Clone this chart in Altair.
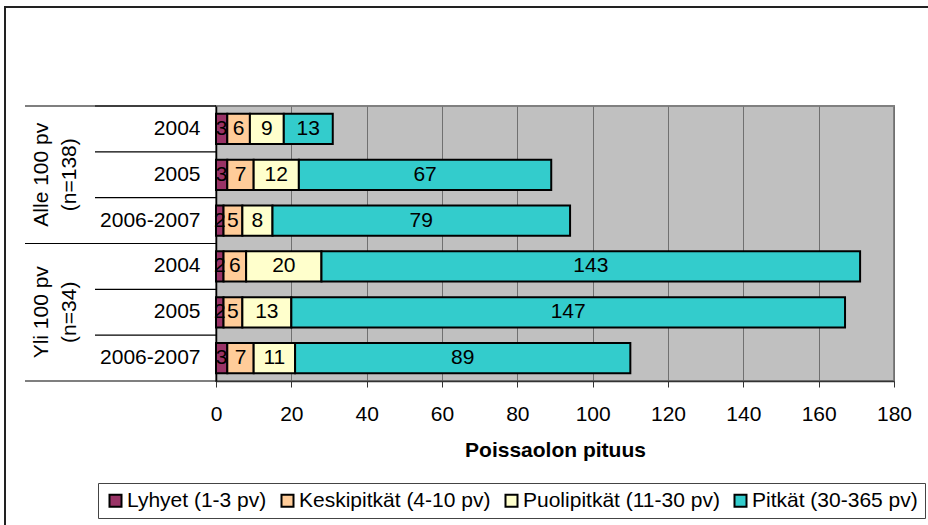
import altair as alt
import pandas as pd

# Absence lengths per group and period
groups = ["Alle", "Alle", "Alle", "Yli", "Yli", "Yli"]
years = ["2004", "2005", "2006-2007", "2004", "2005", "2006-2007"]
lyhyet = [3, 3, 2, 2, 2, 3]
keskipitkat = [6, 7, 5, 6, 5, 7]
puolipitkat = [9, 12, 8, 20, 13, 11]
pitkat = [13, 67, 79, 143, 147, 89]

categories = [
    "Lyhyet (1-3 pv)",
    "Keskipitkät (4-10 pv)",
    "Puolipitkät (11-30 pv)",
    "Pitkät (30-365 pv)",
]
colors = ["#993366", "#FFCC99", "#FFFFCC", "#33CCCC"]
group_names = ["Alle", "Yli"]
group_texts = ["Alle 100 pv\n(n=138)", "Yli 100 pv\n(n=34)"]
x_ticks = [0, 20, 40, 60, 80, 100, 120, 140, 160, 180]

FONT = "Liberation Sans"
FS = 21

rows = [f"{g}|{y}" for g, y in zip(groups, years)]
series = [lyhyet, keskipitkat, puolipitkat, pitkat]
records = []
for i, row in enumerate(rows):
    for k, cat in enumerate(categories):
        records.append({"row": row, "category": cat, "order": k, "value": series[k][i]})
df = pd.DataFrame(records)

y_scale = alt.Scale(domain=rows, paddingInner=0, paddingOuter=0)
y_axis = alt.Axis(
    title=None,
    ticks=False,
    labelExpr="split(datum.label, '|')[1]",
    labelFont=FONT,
    labelFontSize=FS,
    labelColor="black",
    labelPadding=16,
    domainColor="#000000",
    domainWidth=1.5,
    grid=False,
)


def y_enc(band=None):
    if band is None:
        return alt.Y("row:N", scale=y_scale, axis=y_axis)
    return alt.Y("row:N", scale=y_scale, axis=y_axis, bandPosition=band)


x_scale = alt.Scale(domain=[0, 180], nice=False)
x_axis = alt.Axis(
    title="Poissaolon pituus",
    values=x_ticks,
    grid=True,
    gridColor="#707070",
    gridWidth=1,
    tickSize=6,
    tickColor="#333333",
    domainColor="#333333",
    domainWidth=1.5,
    labelFont=FONT,
    labelFontSize=FS,
    labelColor="black",
    labelPadding=16,
    labelFlush=False,
    titleFont=FONT,
    titleFontSize=FS,
    titleFontWeight="bold",
    titleColor="black",
    titleBaseline="middle",
    titleY=69,
)

stacked = alt.Chart(df).transform_stack(
    stack="value",
    groupby=["row"],
    as_=["x0", "x1"],
    sort=[alt.SortField("order", order="ascending")],
).transform_calculate(mid="(datum.x0 + datum.x1) / 2")

bars = stacked.mark_bar(
    height=alt.RelativeBandSize(band=0.66), stroke="black", strokeWidth=2
).encode(
    x=alt.X("x0:Q", scale=x_scale, axis=x_axis),
    x2="x1:Q",
    y=y_enc(),
    color=alt.Color(
        "category:N",
        scale=alt.Scale(domain=categories, range=colors),
        sort=categories,
        legend=alt.Legend(
            title=None,
            orient="none",
            direction="horizontal",
            legendX=-118,
            legendY=377,
            symbolType="square",
            symbolSize=144,
            symbolStrokeColor="black",
            symbolStrokeWidth=2,
            symbolOpacity=1,
            labelFont=FONT,
            labelFontSize=FS,
            labelColor="black",
            labelLimit=400,
            labelOffset=1,
            columnPadding=10,
            padding=7,
            strokeColor="#444444",
            fillColor="white",
        ),
    ),
    order=alt.Order("order:Q"),
)

value_labels = stacked.mark_text(
    font=FONT, fontSize=FS, color="black", align="center", baseline="middle"
).encode(
    x=alt.X("mid:Q", scale=x_scale, axis=x_axis),
    y=y_enc(),
    text=alt.Text("value:Q"),
)

row_df = pd.DataFrame({"row": rows})
first_rows = pd.DataFrame({"row": [rows[0], rows[3]]})
last_row = pd.DataFrame({"row": [rows[-1]]})

# Category separators to the left of the plot
short_rules = alt.Chart(row_df).mark_rule(color="black", strokeWidth=1.2).encode(
    y=y_enc(0), x=alt.value(-121), x2=alt.value(0)
)
group_rules_top = alt.Chart(first_rows).mark_rule(color="black", strokeWidth=1.2).encode(
    y=y_enc(0), x=alt.value(-191), x2=alt.value(0)
)
group_rules_bottom = alt.Chart(last_row).mark_rule(color="black", strokeWidth=1.2).encode(
    y=y_enc(1), x=alt.value(-191), x2=alt.value(0)
)

group_df = pd.DataFrame({"row": [rows[1], rows[4]], "label": group_texts})
group_labels = alt.Chart(group_df).mark_text(
    font=FONT,
    fontSize=FS,
    color="black",
    angle=270,
    align="center",
    baseline="middle",
    lineBreak="\n",
    lineHeight=28,
).encode(y=y_enc(), x=alt.value(-174), text="label:N")

# Outer frame of the chart: top and left edges run to the page border
frame_data = alt.Data(values=[{"f": 1}])
frame_top = alt.Chart(frame_data).mark_rule(color="#222222", strokeWidth=2).encode(
    x=alt.value(-212), x2=alt.value(712), y=alt.value(-99)
)
frame_left = alt.Chart(frame_data).mark_rule(color="#222222", strokeWidth=2).encode(
    x=alt.value(-211), y=alt.value(-100), y2=alt.value(420)
)

chart = alt.layer(
    frame_top,
    frame_left,
    bars,
    value_labels,
    short_rules,
    group_rules_top,
    group_rules_bottom,
    group_labels,
).properties(
    width=678,
    height=275,
    autosize=alt.AutoSizeParams(type="none"),
    padding={"left": 216, "top": 106, "right": 34, "bottom": 144},
    background="white",
).configure_view(
    fill="#C0C0C0", stroke="#808080", strokeWidth=2
)

chart.save("out.html", embed_options={"renderer": "svg", "actions": False})
